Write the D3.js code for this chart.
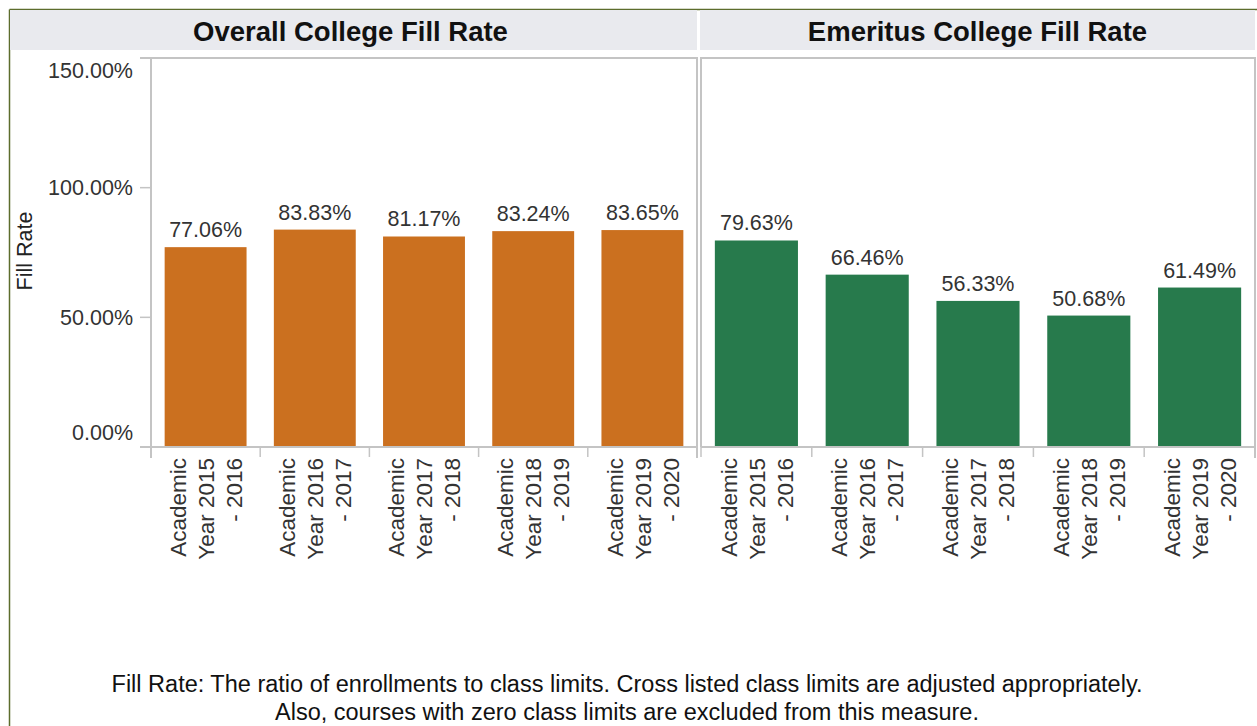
<!DOCTYPE html>
<html><head><meta charset="utf-8">
<script src="https://cdn.jsdelivr.net/npm/d3@7"></script>
<style>
html,body{margin:0;padding:0;background:#fff;}
svg{display:block;font-family:Arial,"Liberation Sans",sans-serif;}
</style></head>
<body><svg id="chart" width="1257" height="726"></svg>
<script>
const categories = ["Academic Year 2015 - 2016","Academic Year 2016 - 2017","Academic Year 2017 - 2018","Academic Year 2018 - 2019","Academic Year 2019 - 2020"];
const categoryLines = [["Academic","Year 2015","- 2016"],["Academic","Year 2016","- 2017"],["Academic","Year 2017","- 2018"],["Academic","Year 2018","- 2019"],["Academic","Year 2019","- 2020"]];
const overallValues = [77.06, 83.83, 81.17, 83.24, 83.65];
const emeritusValues = [79.63, 66.46, 56.33, 50.68, 61.49];
const panelTitles = ["Overall College Fill Rate", "Emeritus College Fill Rate"];
const yTicks = [0, 50, 100, 150];
const yTitle = "Fill Rate";
const footnote = ["Fill Rate: The ratio of enrollments to class limits. Cross listed class limits are adjusted appropriately.",
                  "Also, courses with zero class limits are excluded from this measure."];

const svg = d3.select("#chart");
const textCol = "#333";
const borderCol = "#c4c4c4";

// outer frame
svg.append("line").attr("x1",9.5).attr("x2",1257).attr("y1",9.5).attr("y2",9.5).attr("stroke","#5c6d2c").attr("stroke-width",1.5);
svg.append("line").attr("x1",9.5).attr("x2",9.5).attr("y1",9.5).attr("y2",726).attr("stroke","#5c6d2c").attr("stroke-width",1.5);

const y = d3.scaleLinear().domain([0,150]).range([447,58]);

const panels = [
  {title: panelTitles[0], values: overallValues, color:"#cb701f", x0:151, x1:697, hx0:10, hx1:697},
  {title: panelTitles[1], values: emeritusValues, color:"#277a4c", x0:701, x1:1255, hx0:700, hx1:1255}
];

panels.forEach((p,pi) => {
  // header band
  svg.append("rect").attr("x",p.hx0).attr("y",10).attr("width",p.hx1-p.hx0).attr("height",40).attr("fill","#e9eaee");
  svg.append("text").attr("x",(p.hx0+p.hx1)/2 - (pi===0?3:0)).attr("y",41).attr("text-anchor","middle")
    .attr("font-size",27.5).attr("font-weight","bold").attr("fill","#111").text(p.title);

  const x = d3.scaleBand().domain(categories).range([p.x0,p.x1]).padding(0);
  const g = svg.append("g");

  // bars
  g.selectAll("rect.bar").data(p.values).enter().append("rect")
    .attr("x",(d,i)=>x(categories[i]) + x.bandwidth()*0.125)
    .attr("width",x.bandwidth()*0.75)
    .attr("y",d=>y(d)).attr("height",d=>y(0)-y(d)).attr("fill",p.color);

  // value labels
  g.selectAll("text.val").data(p.values).enter().append("text")
    .attr("x",(d,i)=>x(categories[i]) + x.bandwidth()/2)
    .attr("y",d=>y(d)-10).attr("text-anchor","middle").attr("font-size",21.5).attr("fill",textCol)
    .text(d=>d.toFixed(2)+"%");

  // panel border (top, left, right)
  g.append("line").attr("x1",pi===0?140:p.x0).attr("x2",p.x1).attr("y1",58).attr("y2",58).attr("stroke",borderCol).attr("stroke-width",2);
  g.append("line").attr("x1",p.x0).attr("x2",p.x0).attr("y1",57).attr("y2",pi===0?458:447).attr("stroke",borderCol).attr("stroke-width",2);
  g.append("line").attr("x1",p.x1).attr("x2",p.x1).attr("y1",57).attr("y2",458).attr("stroke",borderCol).attr("stroke-width",2);
  // baseline
  g.append("line").attr("x1",pi===0?140:p.x0).attr("x2",p.x1).attr("y1",447).attr("y2",447).attr("stroke",borderCol).attr("stroke-width",2);

  // x ticks at band boundaries
  const bounds = categories.map(c=>x(c)).concat([p.x1]);
  g.selectAll("line.xt").data(bounds).enter().append("line")
    .attr("x1",d=>d).attr("x2",d=>d).attr("y1",447).attr("y2",457).attr("stroke",borderCol).attr("stroke-width",1.5);

  // x labels (rotated, 3 lines)
  categories.forEach((c,i)=>{
    const cx = x(c) + x.bandwidth()/2;
    categoryLines[i].forEach((ln,j)=>{
      g.append("text").attr("transform",`translate(${cx + (j-1)*28},458) rotate(-90)`)
        .attr("text-anchor","end").attr("dy","0.36em").attr("font-size",22.5).attr("fill",textCol).text(ln);
    });
  });
});

// y axis ticks and labels
const ya = svg.append("g");
ya.selectAll("line").data(yTicks).enter().append("line")
  .attr("x1",140).attr("x2",151).attr("y1",d=>y(d)).attr("y2",d=>y(d)).attr("stroke",borderCol).attr("stroke-width",1.5);
ya.selectAll("text").data(yTicks).enter().append("text")
  .attr("x",133).attr("y",d=> d===150 ? y(d)+12 : d===0 ? y(d)-15 : y(d))
  .attr("dy","0.36em").attr("text-anchor","end").attr("font-size",21.5).attr("fill",textCol)
  .text(d=>d3.format(".2f")(d)+"%");

svg.append("text").attr("transform","translate(24,251) rotate(-90)").attr("text-anchor","middle").attr("dy","0.36em")
  .attr("font-size",21.5).attr("fill","#222").text(yTitle);

// footnote
svg.selectAll("text.foot").data(footnote).enter().append("text")
  .attr("x",627).attr("y",(d,i)=>692+i*28).attr("text-anchor","middle").attr("font-size",23.5).attr("fill","#111").text(d=>d);
</script></body></html>
